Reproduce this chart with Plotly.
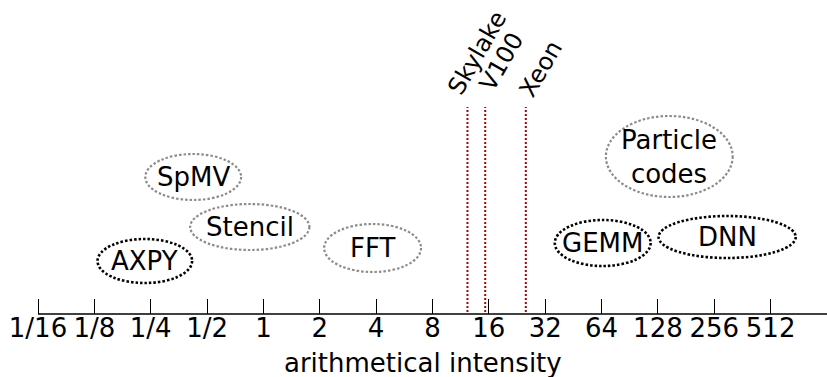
import numpy as np
import plotly.graph_objects as go

# ---- data ----
tick_values = [1/16, 1/8, 1/4, 1/2, 1, 2, 4, 8, 16, 32, 64, 128, 256, 512]
tick_labels = ["1/16", "1/8", "1/4", "1/2", "1", "2", "4", "8", "16", "32", "64", "128", "256", "512"]

kernels = ["AXPY", "SpMV", "Stencil", "FFT", "Particle<br>codes", "GEMM", "DNN"]
kernel_lo = [0.130, 0.234, 0.406, 2.11, 67.5, 36.0, 129.0]   # intensity range (lower)
kernel_hi = [0.416, 0.760, 1.76, 6.95, 321.0, 117.0, 697.0]  # intensity range (upper)
kernel_group = ["black", "gray", "gray", "gray", "gray", "black", "black"]

machines = ["Skylake", "V100", "Xeon"]
machine_balance = [12.3, 15.3, 25.2]

# ---- layout helpers (vertical placement / style only) ----
kernel_y0 = [31, 114, 64, 42, 117, 48, 56]
kernel_y1 = [75, 160, 110, 90, 198, 94, 98]
label_dx = [9.5, 16.4, 15.0]
label_y = [261.5, 251.7, 245.0]
FONT = "DejaVu Sans"

fig = go.Figure()
shapes = []
annotations = []

# axis baseline starting at the first tick
shapes.append(dict(type="line", xref="x", yref="paper", x0=float(np.log2(tick_values[0])), x1=10,
                   y0=0, y1=0, line=dict(color="black", width=1.3)))

for name, lo, hi, grp, y0, y1 in zip(kernels, kernel_lo, kernel_hi, kernel_group, kernel_y0, kernel_y1):
    x0, x1 = np.log2(lo), np.log2(hi)
    col = "#000000" if grp == "black" else "#8c8c8c"
    shapes.append(dict(type="circle", xref="x", yref="y", x0=x0, x1=x1, y0=y0, y1=y1,
                       line=dict(color=col, width=2.6 if grp == "black" else 2.2, dash="2.5px,2px")))
    annotations.append(dict(x=(x0 + x1) / 2, y=(y0 + y1) / 2, xref="x", yref="y", text=name,
                            showarrow=False, font=dict(family=FONT, size=26, color="black"),
                            xanchor="center", yanchor="middle"))

for name, b, dx, ly in zip(machines, machine_balance, label_dx, label_y):
    xb = np.log2(b)
    shapes.append(dict(type="line", xref="x", yref="y", x0=xb, x1=xb, y0=2, y1=207,
                       line=dict(color="#b00000", width=2, dash="2px,2px")))
    annotations.append(dict(x=xb, y=ly, xref="x", yref="y", xshift=dx, text=name, textangle=-60,
                            showarrow=False, font=dict(family=FONT, size=24, color="black"),
                            xanchor="center", yanchor="middle"))

annotations.append(dict(x=0.4935, y=-0.155, xref="paper", yref="paper", text="arithmetical intensity",
                        showarrow=False, font=dict(family=FONT, size=26, color="black"),
                        xanchor="center", yanchor="middle"))

fig.add_trace(go.Scatter(x=[None], y=[None], showlegend=False, hoverinfo="skip"))

fig.update_layout(
    width=827, height=377,
    margin=dict(l=30, r=0, t=0, b=63),
    paper_bgcolor="white", plot_bgcolor="white",
    showlegend=False,
    shapes=shapes, annotations=annotations,
    xaxis=dict(range=[-4.1419, 10], tickmode="array",
               tickvals=[float(np.log2(v)) for v in tick_values], ticktext=tick_labels,
               ticks="inside", ticklen=15, tickwidth=1.3, tickcolor="black",
               showline=False,
               showgrid=False, zeroline=False, ticklabelstandoff=-4,
               tickfont=dict(family=FONT, size=26, color="black")),
    yaxis=dict(range=[0, 314], visible=False, showgrid=False, zeroline=False),
)

fig.write_html("out.html", config={"displayModeBar": False},
               post_script="document.body.style.margin='0';document.body.style.overflow='hidden';")
